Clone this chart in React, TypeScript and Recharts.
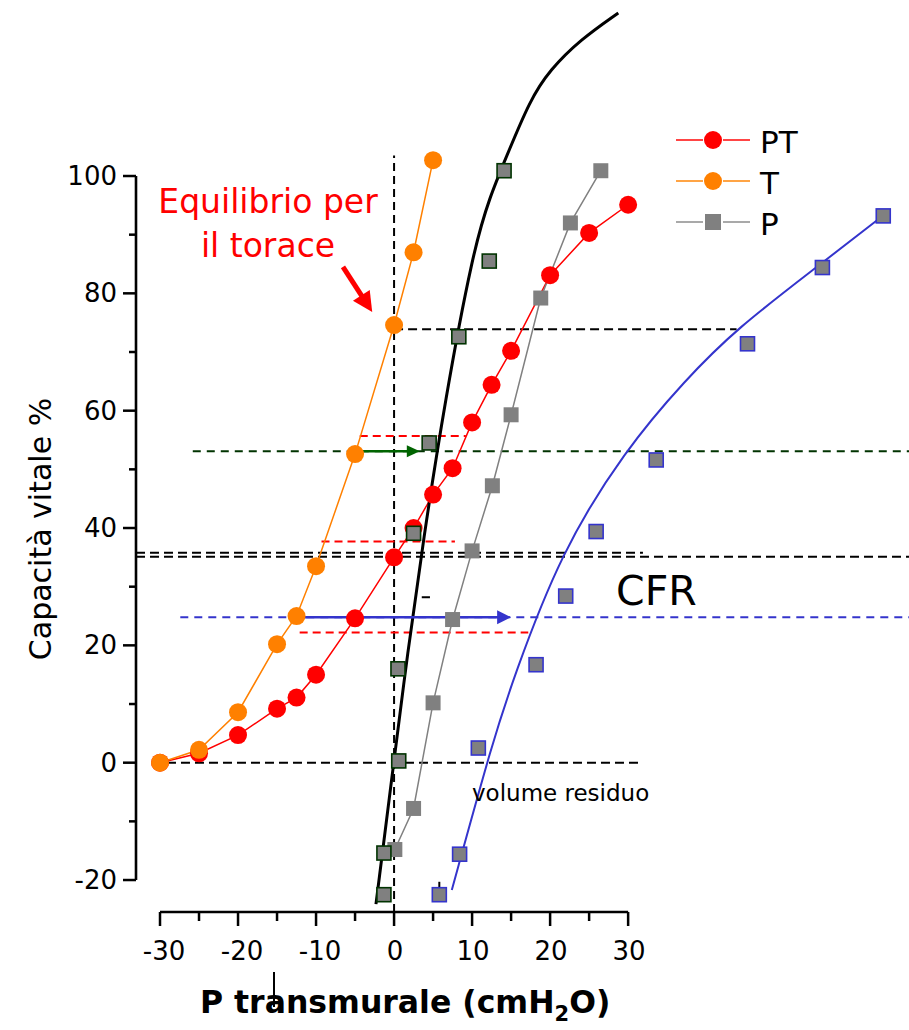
import React from "react";
import { ComposedChart, Line, XAxis, YAxis, ReferenceLine } from "recharts";

// ---------- data ----------
const X_MIN = -33.077;
const X_MAX = 66;
const Y_MIN = -25.45;
const Y_MAX = 130;
const X_TICKS = [-30, -25, -20, -15, -10, -5, 0, 5, 10, 15, 20, 25, 30];
const Y_TICKS = [-20, -10, 0, 10, 20, 30, 40, 50, 60, 70, 80, 90, 100];

const PT_X = [-30, -25, -20, -15, -12.5, -10, -5, 0, 2.5, 5, 7.5, 10, 12.5, 15, 20, 25, 30];
const PT_Y = [0, 1.6, 4.7, 9.2, 11.1, 15.0, 24.6, 35.0, 40.0, 45.7, 50.2, 58.0, 64.4, 70.2, 83.1, 90.3, 95.1];

const T_X = [-30, -25, -20, -15, -12.5, -10, -5, 0, 2.5, 5];
const T_Y = [0, 2.2, 8.6, 20.2, 25.0, 33.5, 52.6, 74.6, 87.0, 102.7];

const P_X = [0.1, 2.5, 5, 7.5, 10, 12.6, 15, 18.8, 22.6, 26.5];
const P_Y = [-14.8, -7.8, 10.2, 24.4, 36.1, 47.2, 59.3, 79.2, 92.0, 100.9];

const LUNG_X = [-1.3, -1.3, 0.6, 0.5, 2.5, 4.5, 8.3, 12.2, 14.1];
const LUNG_Y = [-22.5, -15.4, 0.3, 16.0, 39.1, 54.5, 72.6, 85.5, 100.9];

const LUNG_FIT_X = [-2.32, 0.33, 1.62, 3.74, 6.53, 10.15, 12.29, 14.22, 17.42, 19.99, 23.83, 28.74];
const LUNG_FIT_Y = [-24.1, 3.9, 17.5, 37.9, 61.8, 87.4, 96.5, 102.7, 113.0, 118.1, 123.2, 127.8];

const CHEST_X = [5.8, 8.4, 10.8, 18.2, 22.0, 25.9, 33.6, 45.3, 54.9, 62.7];
const CHEST_Y = [-22.5, -15.6, 2.5, 16.7, 28.4, 39.4, 51.6, 71.4, 84.4, 93.2];

const CHEST_FIT_X = [7.4, 12.7, 15.3, 21.3, 29.6, 37.3, 43.9, 54.2, 63.6];
const CHEST_FIT_Y = [-21.7, 3.9, 14.4, 35.7, 53.3, 65.2, 74.0, 84.5, 94.2];

const LEGEND_LABELS = ["PT", "T", "P"];

// dashed guide lines: [y, xFrom, xTo]
const BLACK_DASH = [
  [73.9, 0, 43.9],
  [35.8, X_MIN, 31.9],
  [35.1, X_MIN, X_MAX],
  [0, -30.9, 31.5],
];
const RED_DASH = [
  [55.7, -4.4, 9.2],
  [37.7, -9.3, 7.8],
  [22.2, -12.1, 17.2],
];
const GREEN_DASH_Y = 53.1;
const GREEN_DASH_X = [-25.8, X_MAX];
const BLUE_DASH_Y = 24.8;
const BLUE_DASH_X = [-27.4, X_MAX];
const VERT_DASH_X = 0;
const VERT_DASH_Y = [Y_MIN, 103.5];

const GREEN_ARROW = [[-5, 53.1], [3.3, 53.1]];
const BLUE_ARROW = [[-12.6, 24.8], [15.0, 24.8]];
const RED_ARROW = [[-6.55, 84.5], [-2.8, 76.8]];

const zip = (xs: number[], ys: number[]) => xs.map((x, i) => ({ x, y: ys[i] }));

const FONT = "DejaVu Sans";

const RED = "#FF0000";
const ORANGE = "#FF8000";
const GREY = "#808080";
const BLUE = "#3434CC";
const DKGREEN = "#003300";

const circleDot = (color: string, r: number) => (p: any) => (
  <circle key={`c${p.index}`} cx={p.cx} cy={p.cy} r={r} fill={color} stroke="none" />
);
const squareDot = (size: number, stroke: string | null) => (p: any) => (
  <rect
    key={`s${p.index}`}
    x={p.cx - size / 2}
    y={p.cy - size / 2}
    width={size}
    height={size}
    fill={GREY}
    stroke={stroke || "none"}
    strokeWidth={stroke ? 1.6 : 0}
  />
);

const arrowShape = (color: string, w: number, headLen: number, headHalf: number) => (p: any) => {
  const { x1, y1, x2, y2 } = p;
  const dx = x2 - x1;
  const dy = y2 - y1;
  const L = Math.hypot(dx, dy) || 1;
  const ux = dx / L;
  const uy = dy / L;
  const bx = x2 - ux * headLen;
  const by = y2 - uy * headLen;
  const pts = `${x2},${y2} ${bx - uy * headHalf},${by + ux * headHalf} ${bx + uy * headHalf},${by - ux * headHalf}`;
  return (
    <g>
      <line x1={x1} y1={y1} x2={bx + ux * 1} y2={by + uy * 1} stroke={color} strokeWidth={w} />
      <polygon points={pts} fill={color} />
    </g>
  );
};

const XTick = (p: any) => {
  const v = p.payload.value;
  const major = v % 10 === 0;
  return (
    <g>
      <line x1={p.x} x2={p.x} y1={p.y} y2={p.y + (major ? 14 : 9)} stroke="#000" strokeWidth={2.5} />
      {major && (
        <text x={p.x + (v < 0 ? 4 : 1)} y={p.y + 48} textAnchor="middle" fontFamily={FONT} fontSize={26} fill="#000">
          {String(v)}
        </text>
      )}
    </g>
  );
};

const YTick = (p: any) => {
  const v = p.payload.value;
  const major = v % 20 === 0;
  return (
    <g>
      <line x1={p.x - (major ? 13 : 7)} x2={p.x} y1={p.y} y2={p.y} stroke="#000" strokeWidth={2.5} />
      {major && (
        <text x={p.x - 19} y={p.y + 9} textAnchor="end" fontFamily={FONT} fontSize={26} fill="#000">
          {String(v)}
        </text>
      )}
    </g>
  );
};

export default function App() {
  const legendRows = [
    { label: LEGEND_LABELS[0], line: "#FF3030", kind: "circle", color: RED, y: 140 },
    { label: LEGEND_LABELS[1], line: "#FF9A30", kind: "circle", color: ORANGE, y: 181 },
    { label: LEGEND_LABELS[2], line: "#A0A0A0", kind: "square", color: GREY, y: 222 },
  ];
  return (
    <div style={{ position: "relative", width: 909, height: 1030, background: "#fff" }}>
      <style>{"body{margin:0;background:#fff}"}</style>
      <ComposedChart width={909} height={1030} margin={{ top: 0, right: 0, bottom: 0, left: 0 }}>
        <XAxis
          type="number"
          dataKey="x"
          domain={[X_MIN, X_MAX]}
          ticks={X_TICKS}
          allowDataOverflow
          axisLine={false}
          tickLine={false}
          tickSize={0}
          tickMargin={0}
          height={118}
          interval={0}
          tick={(p: any) => <XTick {...p} />}
        />
        <YAxis
          type="number"
          domain={[Y_MIN, Y_MAX]}
          ticks={Y_TICKS}
          allowDataOverflow
          axisLine={false}
          tickLine={false}
          tickSize={0}
          tickMargin={0}
          width={136}
          interval={0}
          tick={(p: any) => <YTick {...p} />}
        />

        {/* axis lines */}
        <ReferenceLine segment={[{ x: X_MIN, y: -20 }, { x: X_MIN, y: 100 }]} stroke="#000" strokeWidth={2.6} ifOverflow="visible" />
        <ReferenceLine segment={[{ x: -30, y: Y_MIN }, { x: 30, y: Y_MIN }]} stroke="#000" strokeWidth={2.6} ifOverflow="visible" />

        {/* dashed guides */}
        <ReferenceLine
          segment={[{ x: VERT_DASH_X, y: VERT_DASH_Y[0] }, { x: VERT_DASH_X, y: VERT_DASH_Y[1] }]}
          stroke="#000"
          strokeWidth={2}
          strokeDasharray="8 5"
          ifOverflow="visible"
        />
        {BLACK_DASH.map((d, i) => (
          <ReferenceLine
            key={`bd${i}`}
            segment={[{ x: d[1], y: d[0] }, { x: d[2], y: d[0] }]}
            stroke="#000"
            strokeWidth={2}
            strokeDasharray="9 5"
            ifOverflow="visible"
          />
        ))}
        {RED_DASH.map((d, i) => (
          <ReferenceLine
            key={`rd${i}`}
            segment={[{ x: d[1], y: d[0] }, { x: d[2], y: d[0] }]}
            stroke={RED}
            strokeWidth={2}
            strokeDasharray="8 5"
            ifOverflow="visible"
          />
        ))}
        <ReferenceLine
          segment={[{ x: GREEN_DASH_X[0], y: GREEN_DASH_Y }, { x: GREEN_DASH_X[1], y: GREEN_DASH_Y }]}
          stroke={DKGREEN}
          strokeWidth={2}
          strokeDasharray="8 6"
          ifOverflow="visible"
        />
        <ReferenceLine
          segment={[{ x: BLUE_DASH_X[0], y: BLUE_DASH_Y }, { x: BLUE_DASH_X[1], y: BLUE_DASH_Y }]}
          stroke={BLUE}
          strokeWidth={2}
          strokeDasharray="8 6"
          ifOverflow="visible"
        />
        {/* small strokes */}
        <ReferenceLine segment={[{ x: 3.55, y: 28.2 }, { x: 4.6, y: 28.2 }]} stroke="#000" strokeWidth={2} ifOverflow="visible" />
        <ReferenceLine segment={[{ x: 5.8, y: -20.3 }, { x: 5.8, y: -22.2 }]} stroke="#000" strokeWidth={2} ifOverflow="visible" />

        {/* series */}
        <Line
          data={zip(PT_X, PT_Y)}
          dataKey="y"
          type="linear"
          stroke={RED}
          strokeWidth={1.5}
          dot={circleDot(RED, 9)}
          activeDot={false}
          isAnimationActive={false}
        />
        <Line
          data={zip(T_X, T_Y)}
          dataKey="y"
          type="linear"
          stroke={ORANGE}
          strokeWidth={1.5}
          dot={circleDot(ORANGE, 9)}
          activeDot={false}
          isAnimationActive={false}
        />
        <Line
          data={zip(P_X, P_Y)}
          dataKey="y"
          type="linear"
          stroke={GREY}
          strokeWidth={1.5}
          dot={squareDot(15, null)}
          activeDot={false}
          isAnimationActive={false}
        />
        <Line
          data={zip(LUNG_X, LUNG_Y)}
          dataKey="y"
          type="linear"
          stroke="none"
          strokeWidth={0}
          dot={squareDot(14, DKGREEN)}
          activeDot={false}
          isAnimationActive={false}
        />
        <Line
          data={zip(LUNG_FIT_X, LUNG_FIT_Y)}
          dataKey="y"
          type="basis"
          stroke="#000"
          strokeWidth={3}
          dot={false}
          activeDot={false}
          isAnimationActive={false}
        />
        <Line
          data={zip(CHEST_X, CHEST_Y)}
          dataKey="y"
          type="linear"
          stroke="none"
          strokeWidth={0}
          dot={squareDot(14, BLUE)}
          activeDot={false}
          isAnimationActive={false}
        />
        <Line
          data={zip(CHEST_FIT_X, CHEST_FIT_Y)}
          dataKey="y"
          type="basis"
          stroke={BLUE}
          strokeWidth={2}
          dot={false}
          activeDot={false}
          isAnimationActive={false}
        />

        {/* arrows */}
        <ReferenceLine
          segment={[{ x: GREEN_ARROW[0][0], y: GREEN_ARROW[0][1] }, { x: GREEN_ARROW[1][0], y: GREEN_ARROW[1][1] }]}
          ifOverflow="visible"
          shape={arrowShape("#006400", 2.5, 13, 6)}
        />
        <ReferenceLine
          segment={[{ x: BLUE_ARROW[0][0], y: BLUE_ARROW[0][1] }, { x: BLUE_ARROW[1][0], y: BLUE_ARROW[1][1] }]}
          ifOverflow="visible"
          shape={arrowShape(BLUE, 2.5, 14, 7)}
        />
        <ReferenceLine
          segment={[{ x: RED_ARROW[0][0], y: RED_ARROW[0][1] }, { x: RED_ARROW[1][0], y: RED_ARROW[1][1] }]}
          ifOverflow="visible"
          shape={arrowShape(RED, 5, 20, 10)}
        />
      </ComposedChart>

      <svg
        width={909}
        height={1030}
        style={{ position: "absolute", left: 0, top: 0, pointerEvents: "none" }}
        fontFamily={FONT}
      >
        {/* legend */}
        {legendRows.map((r) => (
          <g key={r.label}>
            <line x1={676} x2={703} y1={r.y} y2={r.y} stroke={r.line} strokeWidth={1.8} />
            <line x1={723} x2={750} y1={r.y} y2={r.y} stroke={r.line} strokeWidth={1.8} />
            {r.kind === "circle" ? (
              <circle cx={713} cy={r.y} r={9} fill={r.color} />
            ) : (
              <rect x={705} y={r.y - 8} width={16} height={16} fill={r.color} />
            )}
            <text x={760} y={r.y + 13} fontSize={31} fill="#000">
              {r.label}
            </text>
          </g>
        ))}

        {/* annotations */}
        <text x={268} y={213} textAnchor="middle" fontSize={33} fill={RED}>
          Equilibrio per
        </text>
        <text x={268} y={257} textAnchor="middle" fontSize={33} fill={RED}>
          il torace
        </text>
        <text x={616} y={605} fontSize={41} fill="#000">
          CFR
        </text>
        <text x={472} y={801} fontSize={23} fill="#000">
          volume residuo
        </text>

        {/* axis titles */}
        <text
          x={0}
          y={0}
          transform="translate(51,529) rotate(-90)"
          textAnchor="middle"
          fontSize={30}
          fill="#000"
        >
          Capacità vitale %
        </text>
        <text x={200} y={1013} fontSize={31.5} fontWeight="bold" fill="#000">
          P transmurale (cmH<tspan fontSize={21} dy={8}>2</tspan>
          <tspan dy={-8}>O)</tspan>
        </text>
        <line x1={274} x2={274} y1={972} y2={1007} stroke="#000" strokeWidth={2} />
      </svg>
    </div>
  );
}
